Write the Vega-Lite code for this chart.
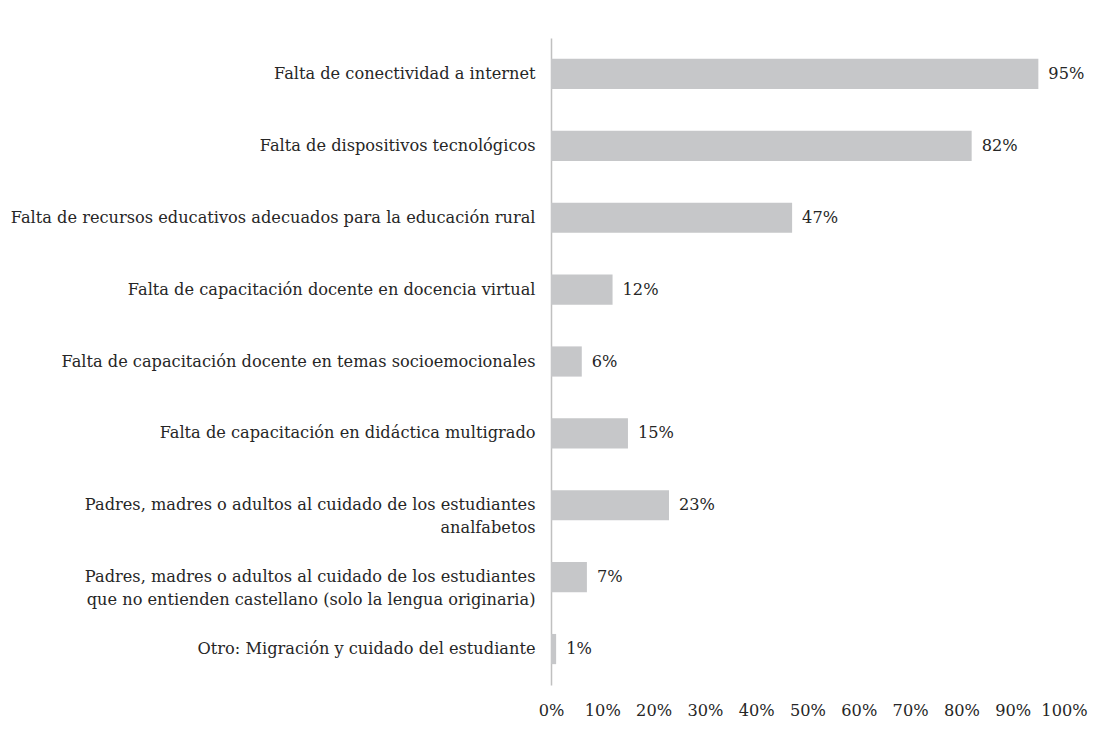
{
  "$schema": "https://vega.github.io/schema/vega-lite/v6.json",
  "autosize": "none",
  "padding": {"left": 551, "top": 38, "right": 32, "bottom": 45},
  "width": 513,
  "height": 647,
  "background": "white",
  "config": {
    "view": {"stroke": null},
    "font": "DejaVu Serif",
    "axis": {"labelFont": "DejaVu Serif", "labelColor": "#262626", "labelFontSize": 16.2}
  },
  "data": {
    "values": [
      {"cat": "Falta de conectividad a internet", "pct": 0.95},
      {"cat": "Falta de dispositivos tecnológicos", "pct": 0.82},
      {"cat": "Falta de recursos educativos adecuados para la educación rural", "pct": 0.47},
      {"cat": "Falta de capacitación docente en docencia virtual", "pct": 0.12},
      {"cat": "Falta de capacitación docente en temas socioemocionales", "pct": 0.06},
      {"cat": "Falta de capacitación en didáctica multigrado", "pct": 0.15},
      {"cat": "Padres, madres o adultos al cuidado de los estudiantes|analfabetos", "pct": 0.23},
      {"cat": "Padres, madres o adultos al cuidado de los estudiantes|que no entienden castellano (solo la lengua originaria)", "pct": 0.07},
      {"cat": "Otro: Migración y cuidado del estudiante", "pct": 0.01}
    ]
  },
  "encoding": {
    "y": {
      "field": "cat",
      "type": "nominal",
      "sort": null,
      "scale": {"paddingInner": 0.58, "paddingOuter": 0.29},
      "axis": {
        "title": null,
        "ticks": false,
        "domainColor": "#c0c0c0",
        "domainWidth": 1.5,
        "labelPadding": 16,
        "labelLimit": 600,
        "labelLineHeight": 23,
        "labelExpr": "split(datum.label, '|')"
      }
    },
    "x": {
      "field": "pct",
      "type": "quantitative",
      "scale": {"domain": [0, 1], "nice": false},
      "axis": {
        "title": null,
        "values": [0, 0.1, 0.2, 0.3, 0.4, 0.5, 0.6, 0.7, 0.8, 0.9, 1],
        "format": ".0%",
        "grid": false,
        "domain": false,
        "ticks": false,
        "labelOverlap": false,
        "labelFlush": false,
        "labelPadding": 17
      }
    }
  },
  "layer": [
    {"mark": {"type": "bar", "color": "#c6c7c9"}},
    {
      "mark": {"type": "text", "align": "left", "dx": 10, "fontSize": 16.2, "font": "DejaVu Serif", "color": "#262626"},
      "encoding": {"text": {"field": "pct", "type": "quantitative", "format": ".0%"}}
    }
  ]
}
